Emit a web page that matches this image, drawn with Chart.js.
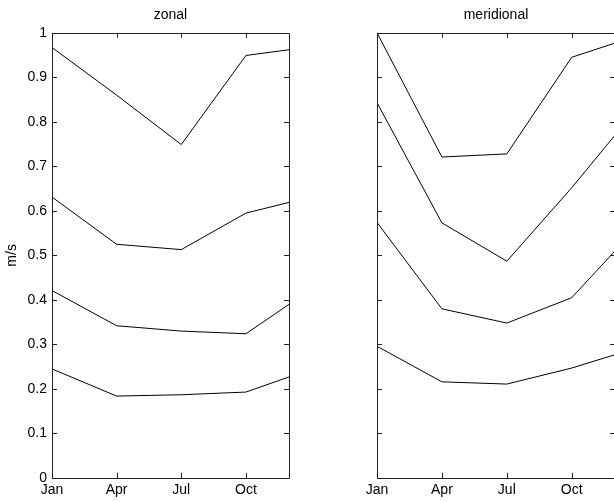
<!DOCTYPE html>
<html>
<head>
<meta charset="utf-8">
<script src="https://cdn.jsdelivr.net/npm/chart.js@4/dist/chart.umd.min.js"></script>
<style>
  html, body { margin: 0; padding: 0; background: #fff; overflow: hidden; }
  body { width: 614px; height: 502px; position: relative; }
  .panel { position: absolute; top: 0; height: 502px; }
  #zonal { left: 0; width: 300px; }
  #meridional { left: 320px; width: 300px; }
</style>
</head>
<body>
<div class="panel" id="zonal"><canvas id="chartZonal"></canvas></div>
<div class="panel" id="meridional"><canvas id="chartMeridional"></canvas></div>
<script>
const months = [1, 4, 7, 10, 12];
const tickMonths = [1, 4, 7, 10];
const tickLabels = ['Jan', 'Apr', 'Jul', 'Oct'];

const zonalA = [0.967, 0.86, 0.749, 0.949, 0.962];
const zonalB = [0.631, 0.525, 0.513, 0.595, 0.619];
const zonalC = [0.421, 0.342, 0.33, 0.324, 0.39];
const zonalD = [0.245, 0.184, 0.187, 0.193, 0.227];

const meridA = [1.0, 0.721, 0.728, 0.945, 0.977];
const meridB = [0.843, 0.573, 0.487, 0.652, 0.77];
const meridC = [0.574, 0.38, 0.348, 0.405, 0.51];
const meridD = [0.296, 0.216, 0.211, 0.247, 0.277];

Chart.defaults.font.family = '"Liberation Sans", Arial, sans-serif';
Chart.defaults.font.size = 14;
Chart.defaults.color = '#000';

// box round the plot with short inward ticks on every side
const framePlugin = {
  id: 'frame',
  afterDatasetsDraw(chart) {
    const { ctx, chartArea: a, scales: { x, y } } = chart;
    const len = 5;
    ctx.save();
    ctx.strokeStyle = '#222';
    ctx.lineWidth = 1;
    ctx.beginPath();
    ctx.rect(Math.round(a.left) + 0.5, Math.round(a.top) + 0.5,
             Math.round(a.width), Math.round(a.height));
    y.ticks.forEach(t => {
      const py = Math.round(y.getPixelForValue(t.value)) + 0.5;
      ctx.moveTo(a.left, py); ctx.lineTo(a.left + len, py);
      ctx.moveTo(a.right, py); ctx.lineTo(a.right - len, py);
    });
    x.ticks.forEach(t => {
      const px = Math.round(x.getPixelForValue(t.value)) + 0.5;
      ctx.moveTo(px, a.bottom); ctx.lineTo(px, a.bottom - len);
      ctx.moveTo(px, a.top); ctx.lineTo(px, a.top + len);
    });
    ctx.stroke();
    ctx.restore();
  }
};

function makeChart(canvasId, title, seriesList, opts) {
  const datasets = seriesList.map(values => ({
    data: months.map((m, i) => ({ x: m, y: values[i] })),
    borderColor: '#000',
    borderWidth: 1,
    pointRadius: 0,
    tension: 0,
    fill: false,
  }));

  return new Chart(document.getElementById(canvasId), {
    type: 'line',
    data: { datasets },
    plugins: [framePlugin],
    options: {
      responsive: true,
      maintainAspectRatio: false,
      animation: false,
      layout: { padding: { left: 0, right: opts.padRight, top: 0, bottom: 0 } },
      plugins: {
        legend: { display: false },
        tooltip: { enabled: false },
        title: {
          display: true,
          text: title,
          fullSize: false,
          font: { size: 14, weight: 'normal' },
          padding: { top: 7, bottom: 9 },
        },
      },
      scales: {
        x: {
          type: 'linear',
          min: 1,
          max: 12,
          afterBuildTicks: axis => { axis.ticks = tickMonths.map(v => ({ value: v })); },
          afterFit: axis => { axis.height = 24; },
          ticks: {
            padding: 4,
            autoSkip: false,
            maxRotation: 0,
            callback: v => tickLabels[tickMonths.indexOf(v)],
          },
          grid: { display: false, drawTicks: false },
          border: { display: false },
        },
        y: {
          min: 0,
          max: 1,
          afterFit: axis => { axis.width = opts.yWidth; },
          ticks: {
            display: opts.showYLabels,
            stepSize: 0.1,
            padding: 5,
            callback: v => String(Number(v.toFixed(1))),
          },
          title: {
            display: opts.showYLabels,
            text: 'm/s',
            padding: { top: 4, bottom: 0 },
          },
          grid: { display: false, drawTicks: false },
          border: { display: false },
        },
      },
    },
  });
}

makeChart('chartZonal', 'zonal', [zonalA, zonalB, zonalC, zonalD],
  { yWidth: 52, padRight: 11, showYLabels: true });
makeChart('chartMeridional', 'meridional', [meridA, meridB, meridC, meridD],
  { yWidth: 57, padRight: 5, showYLabels: false });
</script>
</body>
</html>
